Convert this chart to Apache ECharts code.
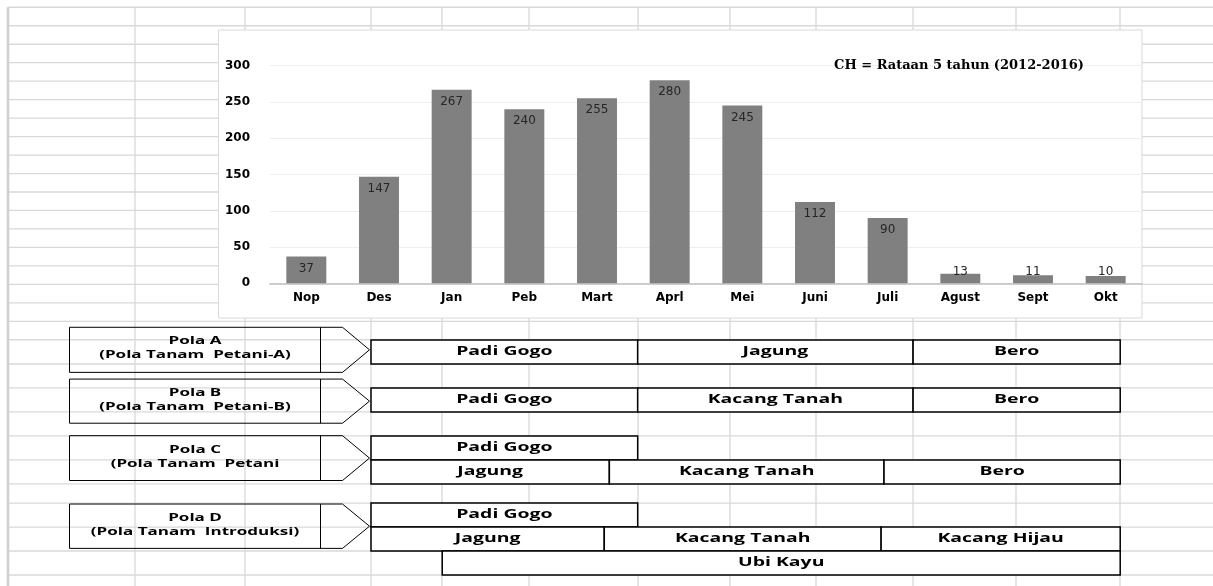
<!DOCTYPE html>
<html>
<head>
<meta charset="utf-8">
<script src="https://cdn.jsdelivr.net/npm/echarts@6/dist/echarts.min.js"></script>
<style>
  html, body { margin: 0; padding: 0; background: #fff; }
  #chart { width: 1213px; height: 586px; }
</style>
</head>
<body>
<div id="chart"></div>
<script>
// ---------------- data ----------------
const months = ['Nop', 'Des', 'Jan', 'Peb', 'Mart', 'Aprl', 'Mei', 'Juni', 'Juli', 'Agust', 'Sept', 'Okt'];
const rainfall = [37, 147, 267, 240, 255, 280, 245, 112, 90, 13, 11, 10];
const yMax = 300;
const yInterval = 50;
const chartNote = 'CH = Rataan 5 tahun (2012-2016)';

// cropping calendar: start / end in months (0 = start of Nop), sheet row of the bar
const cropNames = ['Padi Gogo', 'Jagung', 'Bero',
                   'Padi Gogo', 'Kacang Tanah', 'Bero',
                   'Padi Gogo', 'Jagung', 'Kacang Tanah', 'Bero',
                   'Padi Gogo', 'Jagung', 'Kacang Tanah', 'Kacang Hijau', 'Ubi Kayu'];
const cropStart = [1.39, 5.06, 8.85,
                   1.39, 5.06, 8.85,
                   1.39, 1.39, 4.67, 8.45,
                   1.39, 1.39, 4.60, 8.41, 2.37];
const cropEnd   = [5.06, 8.85, 11.70,
                   5.06, 8.85, 11.70,
                   5.06, 4.67, 8.45, 11.70,
                   5.06, 4.60, 8.41, 11.70, 11.70];
const cropRow   = [0, 0, 0,
                   2, 2, 2,
                   4, 5, 5, 5,
                   6.8, 7.8, 7.8, 7.8, 8.8];

const patternTitles = ['Pola A', 'Pola B', 'Pola C', 'Pola D'];
const patternSubtitles = ['(Pola Tanam  Petani-A)', '(Pola Tanam  Petani-B)', '(Pola Tanam  Petani', '(Pola Tanam  Introduksi)'];
const patternTip = [1.39, 1.39, 1.39, 1.39];
const patternTop = [-0.53, 1.63, 3.99, 6.84];
const patternBottom = [1.35, 3.47, 5.86, 8.69];

// ---------------- layout (spreadsheet background) ----------------
const W = 1213, H = 586;
const sheetCols = [8, 135, 245, 371, 442, 529, 638, 730, 816, 913, 1016, 1120];
const upperRowTop = 7.3, upperRowStep = 18.47, upperRowCount = 18;
const lowTop = 340, lowBottom = 575, lowUnits = 9.8;
const lowerRowUnits = [1, 2, 3, 4, 5, 6, 6.8, 7.8, 8.8, 9.8];

const gridColor = '#d9d9d9';
const graphics = [];
for (let i = 0; i <= upperRowCount; i++) {
  const y = upperRowTop + i * upperRowStep;
  graphics.push({ type: 'line', z: 0, silent: true,
    shape: { x1: sheetCols[0], y1: y, x2: W, y2: y },
    style: { stroke: gridColor, lineWidth: i === 0 ? 1.6 : 1.3 } });
}
lowerRowUnits.forEach(u => {
  const y = lowTop + u * (lowBottom - lowTop) / lowUnits;
  graphics.push({ type: 'line', z: 0, silent: true,
    shape: { x1: sheetCols[0], y1: y, x2: W, y2: y },
    style: { stroke: gridColor, lineWidth: 1.3 } });
});
sheetCols.forEach((x, i) => {
  graphics.push({ type: 'line', z: 0, silent: true,
    shape: { x1: x, y1: upperRowTop, x2: x, y2: H },
    style: { stroke: i === 0 ? '#d0d0d0' : gridColor, lineWidth: i === 0 ? 2.6 : 1.3 } });
});
// chart area box
graphics.push({ type: 'rect', z: 1, silent: true,
  shape: { x: 218.5, y: 30, width: 923.5, height: 288 },
  style: { fill: '#ffffff', stroke: '#d9d9d9', lineWidth: 1 } });
// chart note
graphics.push({ type: 'text', z: 10, silent: true, x: 959, y: 66,
  style: { text: chartNote, textAlign: 'center', textVerticalAlign: 'middle',
    fontFamily: 'DejaVu Serif', fontWeight: 'bold', fontSize: 13, fill: '#000' } });

// ---------------- chart ----------------
const chart = echarts.init(document.getElementById('chart'), null, { renderer: 'canvas' });

const barData = rainfall.map(v => v < 20
  ? { value: v, label: { position: 'insideBottom', distance: 5 } }
  : v);

const cropData = cropNames.map((n, i) => [cropStart[i], cropEnd[i], cropRow[i], i]);
const patternData = patternTitles.map((n, i) => [patternTip[i], patternTop[i], patternBottom[i], i]);

const option = {
  animation: false,
  backgroundColor: '#ffffff',
  graphic: { elements: graphics },
  grid: [
    { left: 270, right: W - 1142, top: 65.7, bottom: H - 283.3 },
    { left: 270, right: W - 1142, top: lowTop, bottom: H - lowBottom }
  ],
  xAxis: [
    {
      type: 'category', gridIndex: 0, data: months, z: 2,
      axisLine: { lineStyle: { color: '#bfbfbf', width: 1.6 } },
      axisTick: { show: false },
      axisLabel: { color: '#000', fontFamily: 'DejaVu Sans', fontWeight: 'bold', fontSize: 12, margin: 9 }
    },
    { type: 'value', gridIndex: 1, min: 0, max: 12, show: false }
  ],
  yAxis: [
    {
      type: 'value', gridIndex: 0, min: 0, max: yMax, interval: yInterval, z: 2,
      axisLine: { show: false }, axisTick: { show: false },
      splitLine: { lineStyle: { color: '#eeeeee', width: 1 } },
      axisLabel: { color: '#000', fontFamily: 'DejaVu Sans', fontWeight: 'bold', fontSize: 12, margin: 20 }
    },
    { type: 'value', gridIndex: 1, min: 0, max: lowUnits, inverse: true, show: false }
  ],
  series: [
    {
      type: 'bar', xAxisIndex: 0, yAxisIndex: 0, z: 3,
      data: barData,
      barCategoryGap: '45%',
      itemStyle: { color: '#808080' },
      label: {
        show: true, position: 'insideTop', distance: 6,
        color: '#262626', fontFamily: 'DejaVu Sans', fontSize: 12
      }
    },
    {
      type: 'custom', xAxisIndex: 1, yAxisIndex: 1, z: 4, clip: false,
      encode: { x: [0, 1], y: 2 },
      data: cropData,
      renderItem: function (params, api) {
        const i = api.value(3);
        const s = api.coord([api.value(0), api.value(2)]);
        const e = api.coord([api.value(1), api.value(2) + 1]);
        return {
          type: 'group',
          children: [
            { type: 'rect',
              shape: { x: s[0], y: s[1], width: e[0] - s[0], height: e[1] - s[1] },
              style: { fill: '#ffffff', stroke: '#000000', lineWidth: 1.5 } },
            { type: 'text', x: (s[0] + e[0]) / 2, y: (s[1] + e[1]) / 2, scaleX: 1.62,
              style: { text: cropNames[i], textAlign: 'center', textVerticalAlign: 'middle',
                fontFamily: 'Open Sans', fontWeight: 'bold', fontSize: 12, fill: '#000' } }
          ]
        };
      }
    },
    {
      type: 'custom', xAxisIndex: 1, yAxisIndex: 1, z: 4, clip: false,
      encode: { x: 0, y: [1, 2] },
      data: patternData,
      renderItem: function (params, api) {
        const i = api.value(3);
        const tip = api.coord([api.value(0), api.value(1)])[0] - 1.5;
        const top = api.coord([api.value(0), api.value(1)])[1];
        const bot = api.coord([api.value(0), api.value(2)])[1];
        const mid = (top + bot) / 2;
        const notch = tip - 27, divider = tip - 49, left = tip - 300;
        const cx = (left + divider) / 2;
        return {
          type: 'group',
          children: [
            { type: 'polygon',
              shape: { points: [[left, top], [notch, top], [tip, mid], [notch, bot], [left, bot]] },
              style: { fill: 'none', stroke: '#000', lineWidth: 1 } },
            { type: 'line', shape: { x1: divider, y1: top, x2: divider, y2: bot },
              style: { stroke: '#000', lineWidth: 1 } },
            { type: 'text', x: cx, y: mid - 8.5, scaleX: 1.62,
              style: { text: patternTitles[i], textAlign: 'center', textVerticalAlign: 'middle',
                fontFamily: 'Open Sans', fontWeight: 'bold', fontSize: 10.5, fill: '#000' } },
            { type: 'text', x: cx, y: mid + 5.5, scaleX: 1.62,
              style: { text: patternSubtitles[i], textAlign: 'center', textVerticalAlign: 'middle',
                fontFamily: 'Open Sans', fontWeight: 'bold', fontSize: 10.5, fill: '#000' } }
          ]
        };
      }
    }
  ]
};
chart.setOption(option);
</script>
</body>
</html>
